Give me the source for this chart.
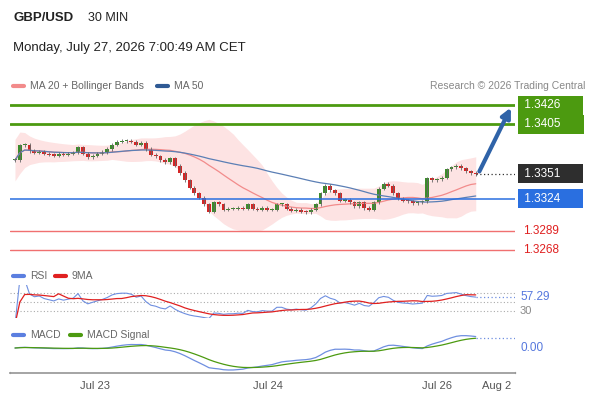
import numpy as np, pandas as pd, seaborn as sns, matplotlib
matplotlib.use("Agg")
import matplotlib.pyplot as plt
sns.set_theme(style="white")
plt.rcParams['font.family'] = ['Liberation Sans', 'DejaVu Sans']

closes = [1.3366,1.3382,1.3383,1.3376,1.3374,1.3375,1.3373,1.3372,1.3371,1.3373,
          1.3372,1.3373,1.3374,1.3380,1.3373,1.3369,1.3371,1.3373,1.3375,1.3378,
          1.3383,1.3386,1.3387,1.3387,1.3386,1.3383,1.3385,1.3378,1.3372,1.3370,
          1.3366,1.3364,1.3368,1.3360,1.3352,1.3344,1.3336,1.3330,1.3325,1.3318,
          1.3310,1.3320,1.3318,1.3312,1.3313,1.3313,1.3314,1.3313,1.3318,1.3313,
          1.3312,1.3314,1.3312,1.3312,1.3318,1.3318,1.3313,1.3311,1.3312,1.3310,
          1.3309,1.3312,1.3318,1.3330,1.3338,1.3333,1.3330,1.3322,1.3323,1.3320,
          1.3316,1.3320,1.3314,1.3312,1.3320,1.3335,1.3340,1.3338,1.3330,1.3324,
          1.3322,1.3321,1.3319,1.3320,1.3321,1.3346,1.3344,1.3345,1.3347,1.3356,
          1.3358,1.3360,1.3357,1.3354,1.3352,1.3351]
levels_green = [1.3426, 1.3405]
level_blue = 1.3324
last_price = 1.3351
levels_red = [1.3289, 1.3268]
xtick_pos = [16.5, 52.2, 87.0, 99.4]
xtick_labels = ["Jul 23", "Jul 24", "Jul 26", "Aug 2"]
rsi_last = "57.29"

df = pd.DataFrame({"close": closes})
df["open"] = df["close"].shift(1).fillna(df["close"])
df["i"] = np.arange(len(df))
s = df["close"]
ma20 = s.rolling(20, min_periods=1).mean()
sd20 = s.rolling(20, min_periods=2).std().bfill()
ma50 = s.rolling(50, min_periods=1).mean()
delta = s.diff().fillna(0)
up = delta.clip(lower=0).ewm(alpha=1/14).mean()
dn = (-delta.clip(upper=0)).ewm(alpha=1/14).mean()
rsi = 100 - 100/(1+up/dn.replace(0, 1e-9))
rsi_ma = rsi.rolling(9, min_periods=1).mean()
macd = s.ewm(span=12).mean() - s.ewm(span=26).mean()
sig = macd.ewm(span=9).mean()

W, H = 590, 400
fig = plt.figure(figsize=(5.9, 4.0), dpi=100)
def ax_px(x0, y0, x1, y1):
    return fig.add_axes([x0/W, 1-y1/H, (x1-x0)/W, (y1-y0)/H])
XL = (-1.03, 103.1)
ax = ax_px(10, 95, 515, 262)
ax.set_xlim(*XL); ax.set_ylim(1.3255, 1.3437)
ax.fill_between(df["i"], ma20-2*sd20, ma20+2*sd20, color="#fde3e3", lw=0)
sns.lineplot(x=df["i"], y=ma20, ax=ax, color="#f28b8b", lw=0.9)
sns.lineplot(x=df["i"], y=ma50, ax=ax, color="#5b7fb5", lw=0.9)
for _, r in df.iterrows():
    o, c, i = r["open"], r["close"], r["i"]
    col = "#3c8c2c" if c >= o else "#d42626"
    ax.vlines(i, min(o, c)-0.00018, max(o, c)+0.00018, color="#666666", lw=0.6)
    h = max(abs(c-o), 0.00012)
    ax.add_patch(plt.Rectangle((i-0.4, min(o, c)), 0.8, h, color=col, lw=0))
for lv in levels_green:
    ax.axhline(lv, color="#4c9a10", lw=2)
ax.axhline(level_blue, color="#2a6fe0", lw=1.1)
for lv in levels_red:
    ax.axhline(lv, color="#f07070", lw=1)
ax.plot([95, 103.1], [last_price]*2, ls=(0, (1, 2)), color="#333333", lw=0.9)
ax.annotate("", xy=(102.5, 1.3426), xytext=(95.5, last_price),
            arrowprops=dict(arrowstyle="-|>", color="#2f63a8", lw=3, mutation_scale=14))
ax.axis("off")
tr = ax.get_yaxis_transform()
def box(v, fc):
    ax.text(1.012, v, f" {v:.4f}      ", transform=tr, va="center", ha="left", fontsize=8.5, color="white",
            bbox=dict(boxstyle="square,pad=0.3", fc=fc, ec="none"), clip_on=False)
for lv in levels_green:
    box(lv, "#4c9a10")
box(last_price, "#2e2e2e")
box(level_blue, "#2a6fe0")
for lv in levels_red:
    ax.text(1.015, lv, f"{lv:.4f}", transform=tr, va="center", ha="left", fontsize=8.5, color="#e02020")

# RSI
ar = ax_px(10, 285, 515, 318)
ar.set_xlim(*XL); ar.set_ylim(14.4, 87.8)
for lv in [70, 50, 30]:
    ar.axhline(lv, color="#aaaaaa", ls=(0, (1, 2)), lw=0.8)
sns.lineplot(x=df["i"], y=rsi, ax=ar, color="#6f8fe0", lw=0.8)
sns.lineplot(x=df["i"], y=rsi_ma, ax=ar, color="#e02020", lw=0.9)
ar.plot([95, 103.1], [rsi.iloc[-1]]*2, ls=(0, (1, 2)), color="#6f8fe0", lw=0.9)
ar.axis("off")
trr = ar.get_yaxis_transform()
ar.text(1.01, 30, "30", transform=trr, va="center", fontsize=8, color="#888888")
ar.text(1.01, rsi.iloc[-1], rsi_last, transform=trr, va="center", fontsize=8.5, color="#5577dd")

# MACD
am = ax_px(10, 335, 515, 372)
am.set_xlim(*XL)
sc = max(abs(macd.min()), abs(sig.min()), 1e-6)/22
am.set_ylim(-24*sc, 13*sc)
sns.lineplot(x=df["i"], y=macd, ax=am, color="#6f8fe0", lw=0.9)
sns.lineplot(x=df["i"], y=sig, ax=am, color="#4c9a10", lw=0.9)
am.plot([95, 103.1], [sig.iloc[-1]]*2, ls=(0, (1, 2)), color="#6f8fe0", lw=0.9)
am.axis("off")
am.text(1.01, 0, "0.00", transform=am.get_yaxis_transform(), va="center", fontsize=8.5, color="#5577dd")

# x axis
axx = ax_px(10, 372, 515, 373)
axx.set_xlim(*XL); axx.set_yticks([])
for sp in ["top", "left", "right"]:
    axx.spines[sp].set_visible(False)
axx.spines["bottom"].set_color("#999999")
axx.set_xticks(xtick_pos, xtick_labels, fontsize=8, color="#555555")
axx.tick_params(axis="x", length=0, pad=6)
axx.plot([XL[0], XL[0]], [0, 5], color="#999999", lw=1, clip_on=False)
axx.plot([XL[1], XL[1]], [0, 5], color="#999999", lw=1, clip_on=False)

def ft(x, y, t, **kw):
    fig.text(x/W, 1-y/H, t, va="center", **kw)
ft(13, 18, "GBP/USD", fontsize=9.5, fontweight="bold", color="#222222")
ft(88, 18, "30 MIN", fontsize=9, color="#222222")
ft(13, 48, "Monday, July 27, 2026 7:00:49 AM CET", fontsize=9.5, color="#222222")
def sw(x, y, c):
    fig.add_artist(plt.Line2D([x/W, (x+11)/W], [1-y/H]*2, color=c, lw=3))
sw(13, 86, "#f28b8b"); ft(30, 86, "MA 20 + Bollinger Bands", fontsize=7.5, color="#666666")
sw(157, 86, "#2f5a94"); ft(174, 86, "MA 50", fontsize=7.5, color="#666666")
fig.text(585/W, 1-86/H, "Research © 2026 Trading Central", ha="right", va="center", fontsize=7.5, color="#888888")
sw(13, 276, "#5b7fe0"); ft(30, 276, "RSI", fontsize=7.5, color="#666666")
sw(55, 276, "#e02020"); ft(72, 276, "9MA", fontsize=7.5, color="#666666")
sw(13, 335, "#5b7fe0"); ft(30, 335, "MACD", fontsize=7.5, color="#666666")
sw(70, 335, "#4c9a10"); ft(87, 335, "MACD Signal", fontsize=7.5, color="#666666")
fig.savefig("out.png", dpi=100, facecolor="white")
